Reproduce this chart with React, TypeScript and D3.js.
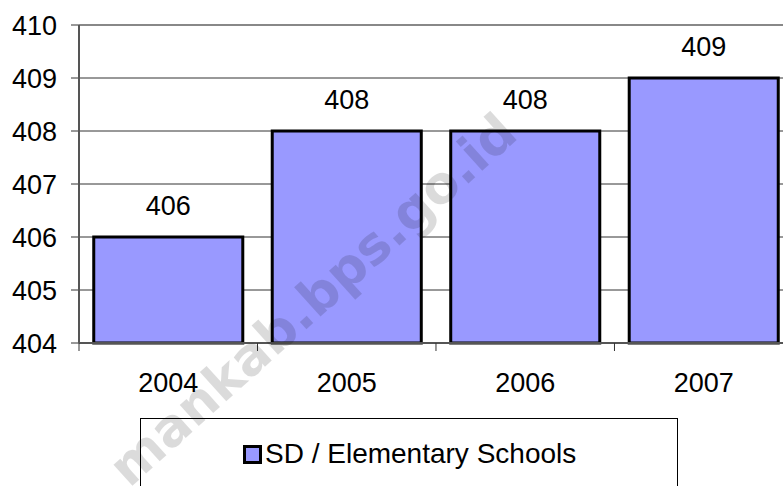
import React from "react";
import * as d3 from "d3";

const years = ["2004", "2005", "2006", "2007"];
const values = [406, 408, 408, 409];
const yTicks = [404, 405, 406, 407, 408, 409, 410];
const seriesName = "SD / Elementary Schools";
const watermark = "mankab.bps.go.id";

const W = 783;
const H = 486;
const FONT = "'Liberation Sans', Arial, sans-serif";

export default function App() {
  const x = d3
    .scaleBand<string>()
    .domain(years)
    .range([79, 793])
    .paddingInner(0.165)
    .paddingOuter(0.0826);
  const y = d3.scaleLinear().domain([404, 410]).range([343, 25]);
  const step = x.step();
  const bounds = years.map((_, i) => 79 + i * step);
  bounds.push(79 + years.length * step);

  return (
    <svg
      width={W}
      height={H}
      style={{ position: "fixed", left: 0, top: 0, background: "#fff" }}
      fontFamily={FONT}
    >
      <rect x={0} y={0} width={W} height={H} fill="#fff" />
      {yTicks.map((t) => (
        <line
          key={"g" + t}
          x1={79}
          x2={W}
          y1={y(t)}
          y2={y(t)}
          stroke={t === 410 ? "#888" : "#333"}
          strokeWidth={t === 410 ? 2 : 1}
        />
      ))}
      {yTicks.map((t) => (
        <g key={"t" + t}>
          <line x1={71} x2={79} y1={y(t)} y2={y(t)} stroke="#333" strokeWidth={1} />
          <text x={57} y={y(t)} dy="0.36em" textAnchor="end" fontSize={27} fill="#000">
            {t}
          </text>
        </g>
      ))}
      {years.map((yr, i) => (
        <rect
          key={yr}
          x={x(yr)}
          y={y(values[i])}
          width={x.bandwidth()}
          height={y(404) - y(values[i])}
          fill="#9999FF"
          stroke="#000"
          strokeWidth={3}
        />
      ))}
      <line x1={79} x2={79} y1={25} y2={343} stroke="#555" strokeWidth={2} />
      <line x1={79} x2={W} y1={343} y2={343} stroke="#555" strokeWidth={2} />
      {bounds.map((b, i) => (
        <line key={"xt" + i} x1={b} x2={b} y1={343} y2={351} stroke="#333" strokeWidth={1} />
      ))}
      {years.map((yr) => (
        <text
          key={"xl" + yr}
          x={(x(yr) as number) + x.bandwidth() / 2}
          y={392}
          textAnchor="middle"
          fontSize={27}
          fill="#000"
        >
          {yr}
        </text>
      ))}
      {years.map((yr, i) => (
        <text
          key={"dl" + yr}
          x={(x(yr) as number) + x.bandwidth() / 2}
          y={y(values[i]) - 22}
          textAnchor="middle"
          fontSize={27}
          fill="#000"
        >
          {values[i]}
        </text>
      ))}
      <rect x={140.5} y={418.5} width={537} height={100} fill="#fff" stroke="#000" strokeWidth={1} />
      <rect x={244.5} y={446.5} width={16} height={16} fill="#9999FF" stroke="#000" strokeWidth={3} />
      <text x={265} y={463} fontSize={28} fill="#000">
        {seriesName}
      </text>
      <text
        transform="translate(520,137) rotate(-42)"
        textAnchor="end"
        fontFamily="'DejaVu Sans', Verdana, sans-serif"
        fontWeight="bold"
        fontSize={52}
        fill="#000"
        fillOpacity={0.14}
      >
        {watermark}
      </text>
    </svg>
  );
}
